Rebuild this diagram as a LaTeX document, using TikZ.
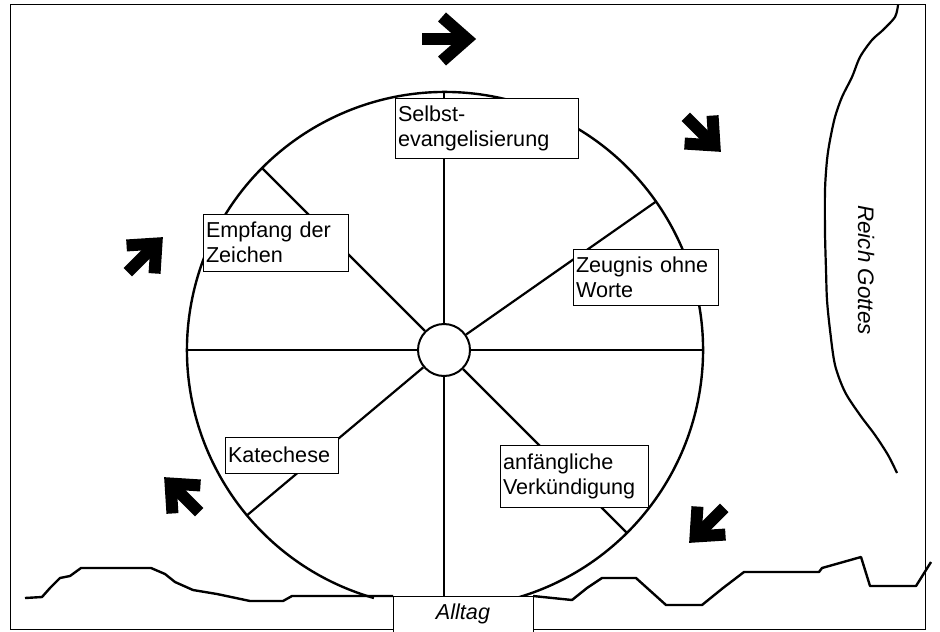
\documentclass[tikz,border=0pt]{standalone}
\usepackage{fontspec}
\setmainfont{Liberation Sans}
\usetikzlibrary{positioning}

\tikzset{
  pics/heavyarrow/.style={code={
    \draw[line width=6pt] (-27,0) -- (10,0);
    \draw[line width=6pt, miter limit=10] (-7,-22) -- (18,0) -- (-7,22);
  }}
}

\begin{document}
\begin{tikzpicture}[
    x=0.5pt, y=-0.5pt,
    wheel/.style={line width=1.2pt},
    spoke/.style={line width=1.1pt},
    ground/.style={line width=1.2pt, line join=round},
    stage/.style={rectangle, draw=black, fill=white, line width=0.5pt, anchor=north west,
      inner sep=1.5pt, outer sep=0pt, align=left, font=\fontsize{10.8}{12.5}\selectfont},
    diag/.style={scale=0.9}
]
\useasboundingbox (0,0) rectangle (940,631);
\fill[white] (0,0) rectangle (940,631);
\draw[line width=0.5pt] (10,5) rectangle (925,629);

% wheel
\coordinate (rim) at (445,350);
\draw[wheel] (rim) ++(106:258) arc[start angle=106, end angle=434, radius=258];
\node (hub) [circle, draw, fill=white, line width=1pt, minimum size=26pt, inner sep=0pt] at (444,350) {};
\foreach \a in {0,-35,-90,-135,180,140,90,45}
  \draw[spoke] (hub) -- ++(\a:258);

% stages
\node (selbst) [stage, text width=88.5pt, minimum height=30pt] at (395,98) {Selbst-\\evangelisierung};
\node (empfang) [stage, text width=69.5pt, minimum height=28.5pt] at (203,214) {Empfang der\\Zeichen};
\node (zeugnis) [stage, text width=69.5pt, minimum height=28pt] at (573,249) {Zeugnis ohne\\Worte};
\node (katechese) [stage, text width=53.5pt, minimum height=18pt] at (225,437) {Katechese};
\node (verkuend) [stage, text width=71pt, minimum height=31pt] at (500,445) {anfängliche\\Verkündigung};
\node (alltag) [stage, align=center, text width=67pt, minimum height=18pt, font=\fontsize{10.8}{12.5}\selectfont\itshape] at (393,596) {Alltag};

% ground
\draw[ground] (25,598) -- (42,597) -- (50,588) -- (60,578) -- (70,576) -- (81,568) -- (151,568)
  -- (165,574) -- (175,582) -- (193,590) -- (217,594) -- (250,601) -- (283,601) -- (292,596)
  -- (alltag.north west);
\draw[ground] (alltag.north east) -- (572,600) -- (587,588) -- (602,578) -- (636,578) -- (666,605)
  -- (702,605) -- (723,588) -- (744,572) -- (819,572) -- (822,568) -- (861,557) -- (870,586)
  -- (916,586) -- (931,562);

% Reich Gottes
\draw[line width=1.1pt] plot[smooth] coordinates {(898,5) (895,17) (883,30) (872,40) (860,57)
  (852,77) (842,97) (835,117) (830,140) (827,160) (825,190) (825,233) (826,270) (827,300)
  (830,330) (835,365) (845,392) (860,415) (875,435) (888,455) (897,473)};
\node (reich) [rotate=-90, font=\fontsize{11.2}{13}\selectfont\itshape] at (866,270) {Reich Gottes};

% arrows
\pic at (449,39) {heavyarrow};
\pic[rotate=-45, diag] at (703,134) {heavyarrow};
\pic[rotate=-135, diag] at (707,525) {heavyarrow};
\pic[rotate=135, diag] at (182,495) {heavyarrow};
\pic[rotate=45, diag] at (145,255) {heavyarrow};

\end{tikzpicture}
\end{document}
